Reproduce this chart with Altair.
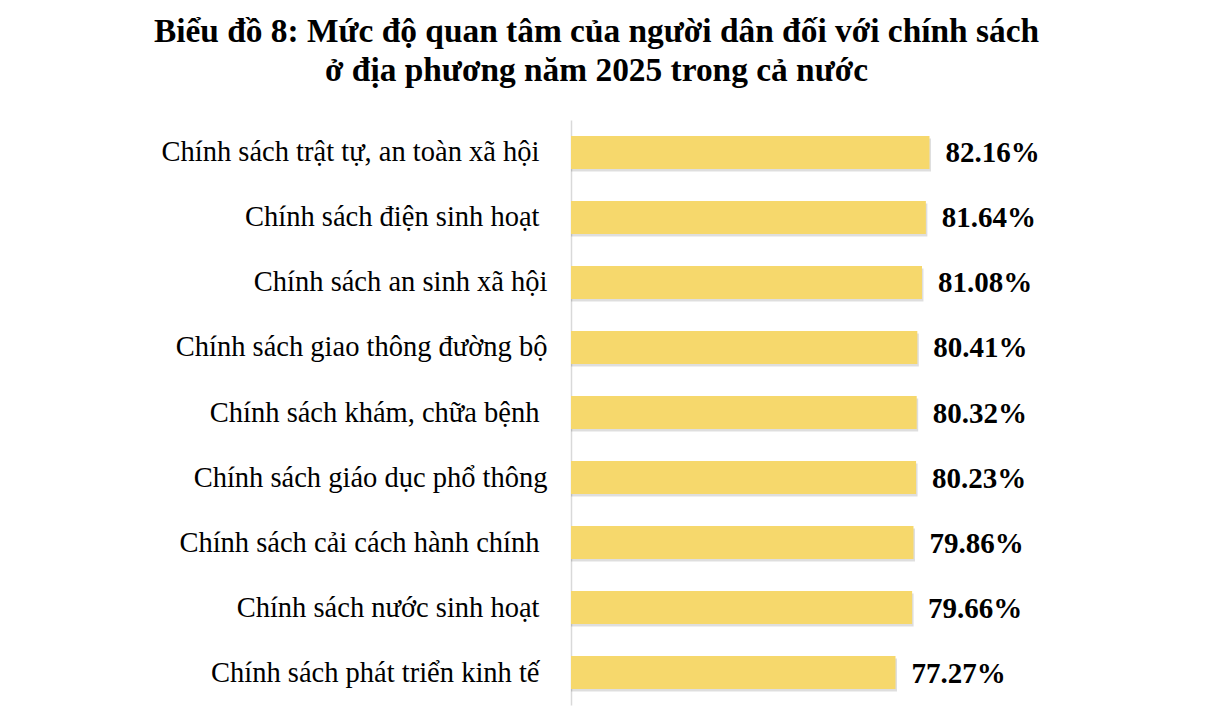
import altair as alt
import pandas as pd

categories = [
    "Chính sách trật tự, an toàn xã hội ",
    "Chính sách điện sinh hoạt ",
    "Chính sách an sinh xã hội",
    "Chính sách giao thông đường bộ",
    "Chính sách khám, chữa bệnh ",
    "Chính sách giáo dục phổ thông",
    "Chính sách cải cách hành chính ",
    "Chính sách nước sinh hoạt ",
    "Chính sách phát triển kinh tế ",
]
values = [82.16, 81.64, 81.08, 80.41, 80.32, 80.23, 79.86, 79.66, 77.27]
value_labels = ["82.16%", "81.64%", "81.08%", "80.41%", "80.32%", "80.23%", "79.86%", "79.66%", "77.27%"]
title_lines = [
    "Biểu đồ 8: Mức độ quan tâm của người dân đối với chính sách",
    "ở địa phương năm 2025 trong cả nước",
]

df = pd.DataFrame({"policy": categories, "value": values, "label": value_labels})

FONT = "Liberation Serif"

# a trailing space in the category text keeps its width in the original picture
trailing_space = "substring(datum.value, length(datum.value) - 1) == ' '"

y_enc = alt.Y(
    "policy:N",
    sort=None,
    scale=alt.Scale(paddingInner=0.4923, paddingOuter=0.246),
    axis=alt.Axis(
        title=None,
        domain=True,
        domainColor="#D9D9D9",
        domainWidth=1.5,
        ticks=False,
        grid=False,
        labelFont=FONT,
        labelFontSize=28.5,
        labelColor="black",
        labelPadding={"condition": {"test": trailing_space, "value": 32}, "value": 24},
        labelLimit=0,
    ),
)
x_enc = alt.X(
    "value:Q",
    scale=alt.Scale(domain=[30.6, 90], nice=False, zero=False),
    axis=None,
)

base = alt.Chart(df)

shadow = base.mark_bar(color="#000000", opacity=0.13, xOffset=1.5, yOffset=2.5, clip=True).encode(
    x=x_enc, y=y_enc
)
bars = base.mark_bar(color="#F6D86C", clip=True).encode(x=x_enc, y=y_enc)
text = base.mark_text(
    align="left", baseline="middle", dx=16, dy=1, font=FONT, fontSize=29, fontWeight="bold", color="black"
).encode(x=x_enc, y=y_enc, text="label:N")

chart = (
    alt.layer(shadow, bars, text)
    .properties(
        width=413,
        height=585,
        title=alt.TitleParams(
            title_lines,
            font=FONT,
            fontSize=33.4,
            fontWeight="bold",
            color="black",
            anchor="middle",
            frame="group",
            lineHeight=39,
            dx=-181,
            offset=32,
        ),
        autosize=alt.AutoSizeParams(type="none"),
        padding={"left": 563, "top": 112, "right": 200, "bottom": 2},
        background="white",
    )
    .configure_view(stroke="transparent", strokeWidth=0)
)

chart.save("out.html", embed_options={"renderer": "svg", "actions": False})
